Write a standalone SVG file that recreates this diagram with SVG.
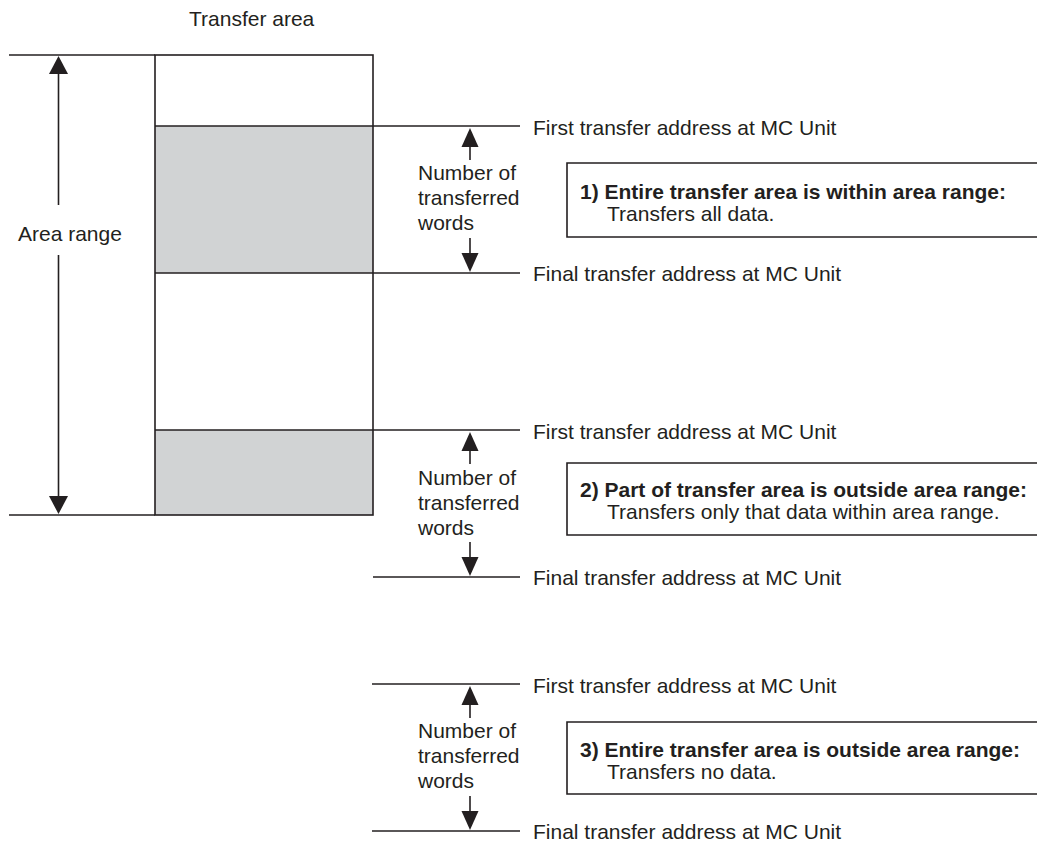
<svg xmlns="http://www.w3.org/2000/svg" width="1037" height="842" viewBox="0 0 1037 842">
<style>
text{font-family:"Liberation Sans",Arial,sans-serif;font-size:21px;fill:#231f20}
.b{font-weight:bold}
.ln{stroke:#231f20;stroke-width:1.6;fill:none}
.box{stroke:#231f20;stroke-width:1.6;fill:#fff}
.gray{fill:#d1d3d4}
.ah{fill:#231f20}
</style>
<defs>
<path id="up" d="M0,0 L-8.5,19 L8.5,19 Z"/>
<path id="dn" d="M0,0 L-8.5,-19 L8.5,-19 Z"/>
<path id="up2" d="M0,0 L-9.5,18 L9.5,18 Z"/>
<path id="dn2" d="M0,0 L-9.5,-18 L9.5,-18 Z"/>
</defs>
<rect width="1037" height="842" fill="#fff"/>

<g id="transfer-area">
<rect class="gray" x="155" y="126" width="218" height="147"/>
<rect class="gray" x="155" y="430" width="218" height="85"/>
<rect class="ln" x="155" y="55" width="218" height="460"/>
<text x="189" y="26">Transfer area</text>
</g>

<g id="area-range">
<text x="18" y="241">Area range</text>
</g>

<g id="case1">
<text x="418" y="180">Number of</text>
<text x="418" y="205">transferred</text>
<text x="418" y="230">words</text>
<text x="533" y="135">First transfer address at MC Unit</text>
<text x="533" y="281">Final transfer address at MC Unit</text>
<path class="box" d="M1040,163 H567 V237 H1040"/>
<text class="b" x="580" y="199">1) Entire transfer area is within area range:</text>
<text x="607" y="221">Transfers all data.</text>
</g>

<g id="case2">
<text x="418" y="485">Number of</text>
<text x="418" y="510">transferred</text>
<text x="418" y="535">words</text>
<text x="533" y="439">First transfer address at MC Unit</text>
<text x="533" y="585">Final transfer address at MC Unit</text>
<path class="box" d="M1040,463 H567 V535 H1040"/>
<text class="b" x="580" y="497">2) Part of transfer area is outside area range:</text>
<text x="607" y="519">Transfers only that data within area range.</text>
</g>

<g id="case3">
<text x="418" y="738">Number of</text>
<text x="418" y="763">transferred</text>
<text x="418" y="788">words</text>
<text x="533" y="693">First transfer address at MC Unit</text>
<text x="533" y="839">Final transfer address at MC Unit</text>
<path class="box" d="M1040,722 H567 V794 H1040"/>
<text class="b" x="580" y="757">3) Entire transfer area is outside area range:</text>
<text x="607" y="779">Transfers no data.</text>
</g>

<g id="connectors">
<line class="ln" x1="9" y1="55" x2="155" y2="55"/>
<line class="ln" x1="9" y1="515" x2="155" y2="515"/>
<line class="ln" x1="58.5" y1="70" x2="58.5" y2="205"/>
<line class="ln" x1="58.5" y1="255" x2="58.5" y2="500"/>
<use href="#up2" class="ah" x="58.5" y="56"/>
<use href="#dn2" class="ah" x="58.5" y="514"/>

<line class="ln" x1="155" y1="126" x2="520" y2="126"/>
<line class="ln" x1="155" y1="273" x2="520" y2="273"/>
<line class="ln" x1="470" y1="140" x2="470" y2="160"/>
<line class="ln" x1="470" y1="238" x2="470" y2="260"/>
<use href="#up" class="ah" x="470" y="128"/>
<use href="#dn" class="ah" x="470" y="272"/>

<line class="ln" x1="155" y1="430" x2="520" y2="430"/>
<line class="ln" x1="373" y1="577" x2="520" y2="577"/>
<line class="ln" x1="470" y1="444" x2="470" y2="464"/>
<line class="ln" x1="470" y1="542" x2="470" y2="564"/>
<use href="#up" class="ah" x="470" y="432"/>
<use href="#dn" class="ah" x="470" y="576"/>

<line class="ln" x1="372" y1="684" x2="520" y2="684"/>
<line class="ln" x1="372" y1="831" x2="520" y2="831"/>
<line class="ln" x1="470" y1="698" x2="470" y2="718"/>
<line class="ln" x1="470" y1="796" x2="470" y2="818"/>
<use href="#up" class="ah" x="470" y="686"/>
<use href="#dn" class="ah" x="470" y="830"/>
</g>
</svg>
